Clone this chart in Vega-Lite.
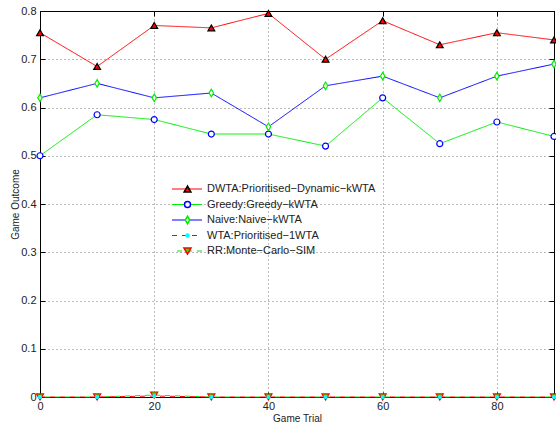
{
  "$schema": "https://vega.github.io/schema/vega-lite/v6.json",
  "autosize": "none",
  "width": 514,
  "height": 386,
  "padding": {"left": 40, "top": 11, "right": 2, "bottom": 27},
  "background": "white",
  "config": {
    "view": {"stroke": "black", "strokeWidth": 1},
    "font": "Liberation Sans",
    "axis": {
      "domainColor": "black",
      "tickColor": "black",
      "labelColor": "#222",
      "titleColor": "#222",
      "labelFont": "Liberation Sans",
      "titleFont": "Liberation Sans",
      "labelFontSize": 11,
      "titleFontSize": 10,
      "titleFontWeight": "normal",
      "gridColor": "#777",
      "gridDash": [1, 3],
      "gridOpacity": 1,
      "tickSize": -5
    },
    "legend": {
      "labelFont": "Liberation Sans",
      "labelFontSize": 11,
      "labelColor": "#222",
      "labelLimit": 400,
      "padding": 0,
      "rowPadding": 3.5,
      "clipHeight": 11,
      "labelOffset": 4
    }
  },
  "data": {
    "values": [
      {"trial": 0, "series": "DWTA:Prioritised−Dynamic−kWTA", "value": 0.755},
      {"trial": 10, "series": "DWTA:Prioritised−Dynamic−kWTA", "value": 0.685},
      {"trial": 20, "series": "DWTA:Prioritised−Dynamic−kWTA", "value": 0.77},
      {"trial": 30, "series": "DWTA:Prioritised−Dynamic−kWTA", "value": 0.765},
      {"trial": 40, "series": "DWTA:Prioritised−Dynamic−kWTA", "value": 0.795},
      {"trial": 50, "series": "DWTA:Prioritised−Dynamic−kWTA", "value": 0.70},
      {"trial": 60, "series": "DWTA:Prioritised−Dynamic−kWTA", "value": 0.78},
      {"trial": 70, "series": "DWTA:Prioritised−Dynamic−kWTA", "value": 0.73},
      {"trial": 80, "series": "DWTA:Prioritised−Dynamic−kWTA", "value": 0.755},
      {"trial": 90, "series": "DWTA:Prioritised−Dynamic−kWTA", "value": 0.74},
      {"trial": 0, "series": "Greedy:Greedy−kWTA", "value": 0.50},
      {"trial": 10, "series": "Greedy:Greedy−kWTA", "value": 0.585},
      {"trial": 20, "series": "Greedy:Greedy−kWTA", "value": 0.575},
      {"trial": 30, "series": "Greedy:Greedy−kWTA", "value": 0.545},
      {"trial": 40, "series": "Greedy:Greedy−kWTA", "value": 0.545},
      {"trial": 50, "series": "Greedy:Greedy−kWTA", "value": 0.52},
      {"trial": 60, "series": "Greedy:Greedy−kWTA", "value": 0.62},
      {"trial": 70, "series": "Greedy:Greedy−kWTA", "value": 0.525},
      {"trial": 80, "series": "Greedy:Greedy−kWTA", "value": 0.57},
      {"trial": 90, "series": "Greedy:Greedy−kWTA", "value": 0.54},
      {"trial": 0, "series": "Naive:Naive−kWTA", "value": 0.62},
      {"trial": 10, "series": "Naive:Naive−kWTA", "value": 0.65},
      {"trial": 20, "series": "Naive:Naive−kWTA", "value": 0.62},
      {"trial": 30, "series": "Naive:Naive−kWTA", "value": 0.63},
      {"trial": 40, "series": "Naive:Naive−kWTA", "value": 0.56},
      {"trial": 50, "series": "Naive:Naive−kWTA", "value": 0.645},
      {"trial": 60, "series": "Naive:Naive−kWTA", "value": 0.665},
      {"trial": 70, "series": "Naive:Naive−kWTA", "value": 0.62},
      {"trial": 80, "series": "Naive:Naive−kWTA", "value": 0.665},
      {"trial": 90, "series": "Naive:Naive−kWTA", "value": 0.69},
      {"trial": 0, "series": "RR:Monte−Carlo−SIM", "value": 0},
      {"trial": 10, "series": "RR:Monte−Carlo−SIM", "value": 0},
      {"trial": 20, "series": "RR:Monte−Carlo−SIM", "value": 0.004},
      {"trial": 30, "series": "RR:Monte−Carlo−SIM", "value": 0},
      {"trial": 40, "series": "RR:Monte−Carlo−SIM", "value": 0},
      {"trial": 50, "series": "RR:Monte−Carlo−SIM", "value": 0},
      {"trial": 60, "series": "RR:Monte−Carlo−SIM", "value": 0},
      {"trial": 70, "series": "RR:Monte−Carlo−SIM", "value": 0},
      {"trial": 80, "series": "RR:Monte−Carlo−SIM", "value": 0},
      {"trial": 90, "series": "RR:Monte−Carlo−SIM", "value": 0},
      {"trial": 0, "series": "WTA:Prioritised−1WTA", "value": 0},
      {"trial": 10, "series": "WTA:Prioritised−1WTA", "value": 0},
      {"trial": 20, "series": "WTA:Prioritised−1WTA", "value": 0.002},
      {"trial": 30, "series": "WTA:Prioritised−1WTA", "value": 0},
      {"trial": 40, "series": "WTA:Prioritised−1WTA", "value": 0},
      {"trial": 50, "series": "WTA:Prioritised−1WTA", "value": 0},
      {"trial": 60, "series": "WTA:Prioritised−1WTA", "value": 0},
      {"trial": 70, "series": "WTA:Prioritised−1WTA", "value": 0},
      {"trial": 80, "series": "WTA:Prioritised−1WTA", "value": 0},
      {"trial": 90, "series": "WTA:Prioritised−1WTA", "value": 0}
    ]
  },
  "resolve": {"axis": {"x": "independent", "y": "independent"}},
  "layer": [
    {
      "mark": {"type": "line", "strokeWidth": 1},
      "encoding": {
        "x": {
          "field": "trial", "type": "quantitative",
          "scale": {"domain": [0, 90], "nice": false, "zero": false},
          "axis": {"orient": "bottom", "values": [0, 20, 40, 60, 80], "grid": true, "title": "Game Trial", "labelPadding": 8, "titlePadding": 2, "labelFlush": false}
        },
        "y": {
          "field": "value", "type": "quantitative",
          "scale": {"domain": [0, 0.8], "nice": false},
          "axis": {"orient": "left", "values": [0, 0.1, 0.2, 0.3, 0.4, 0.5, 0.6, 0.7, 0.8], "grid": true, "title": "Game Outcome", "labelExpr": "datum.value == 0 ? '0' : format(datum.value, '.1f')", "labelPadding": 9, "titlePadding": 0, "labelFlush": false}
        },
        "color": {
          "field": "series", "type": "nominal",
          "scale": {
            "domain": ["DWTA:Prioritised−Dynamic−kWTA", "Greedy:Greedy−kWTA", "Naive:Naive−kWTA", "WTA:Prioritised−1WTA", "RR:Monte−Carlo−SIM"],
            "range": ["#ff0000", "#00ee00", "#0000ff", "#ff0000", "#00ee00"]
          },
          "legend": {"orient": "none", "legendX": 131, "legendY": 172.5, "title": null, "symbolType": "stroke", "symbolSize": 900, "symbolStrokeWidth": 1.2}
        },
        "strokeDash": {
          "field": "series", "type": "nominal",
          "scale": {
            "domain": ["DWTA:Prioritised−Dynamic−kWTA", "Greedy:Greedy−kWTA", "Naive:Naive−kWTA", "WTA:Prioritised−1WTA", "RR:Monte−Carlo−SIM"],
            "range": [[1, 0], [1, 0], [1, 0], [5, 5], [0, 5, 5, 0]]
          },
          "legend": {"orient": "none", "legendX": 131, "legendY": 172.5, "title": null, "symbolType": "stroke", "symbolSize": 900, "symbolStrokeWidth": 1.2}
        }
      }
    },
    {
      "mark": {"type": "point", "filled": true, "strokeWidth": 1.2, "opacity": 1},
      "encoding": {
        "x": {
          "field": "trial", "type": "quantitative",
          "axis": {"orient": "top", "values": [0, 20, 40, 60, 80], "grid": false, "labels": false, "title": null}
        },
        "y": {
          "field": "value", "type": "quantitative",
          "axis": {"orient": "right", "values": [0, 0.1, 0.2, 0.3, 0.4, 0.5, 0.6, 0.7, 0.8], "grid": false, "labels": false, "title": null}
        },
        "shape": {
          "field": "series", "type": "nominal",
          "scale": {
            "domain": ["DWTA:Prioritised−Dynamic−kWTA", "Greedy:Greedy−kWTA", "Naive:Naive−kWTA", "WTA:Prioritised−1WTA", "RR:Monte−Carlo−SIM", " "],
            "range": ["triangle-up", "circle", "M0,-1L0.6,0L0,1L-0.6,0Z", "circle", "triangle-down", "circle"]
          },
          "legend": {"orient": "none", "legendX": 142, "legendY": 172.5, "title": null, "labelOpacity": 0}
        },
        "fill": {
          "field": "series", "type": "nominal",
          "scale": {
            "domain": ["DWTA:Prioritised−Dynamic−kWTA", "Greedy:Greedy−kWTA", "Naive:Naive−kWTA", "WTA:Prioritised−1WTA", "RR:Monte−Carlo−SIM", " "],
            "range": ["#ff0000", "white", "white", "#00ffff", "#00ff00", "transparent"]
          },
          "legend": {"orient": "none", "legendX": 142, "legendY": 172.5, "title": null, "labelOpacity": 0}
        },
        "stroke": {
          "field": "series", "type": "nominal",
          "scale": {
            "domain": ["DWTA:Prioritised−Dynamic−kWTA", "Greedy:Greedy−kWTA", "Naive:Naive−kWTA", "WTA:Prioritised−1WTA", "RR:Monte−Carlo−SIM", " "],
            "range": ["black", "#0000ff", "#00ee00", "#00ffff", "#ff0000", "transparent"]
          },
          "legend": {"orient": "none", "legendX": 142, "legendY": 172.5, "title": null, "labelOpacity": 0}
        },
        "size": {
          "field": "series", "type": "nominal",
          "scale": {
            "type": "ordinal",
            "domain": ["DWTA:Prioritised−Dynamic−kWTA", "Greedy:Greedy−kWTA", "Naive:Naive−kWTA", "WTA:Prioritised−1WTA", "RR:Monte−Carlo−SIM", " "],
            "range": [46, 36, 56, 9, 50, 10]
          },
          "legend": {"orient": "none", "legendX": 142, "legendY": 172.5, "title": null, "labelOpacity": 0}
        }
      }
    }
  ]
}
